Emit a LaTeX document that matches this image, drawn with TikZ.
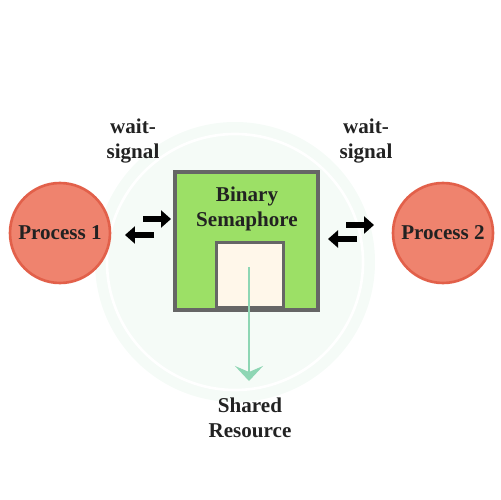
\documentclass[tikz,border=0pt]{standalone}
\usepackage{fontspec}
\setmainfont{Liberation Serif}
\usetikzlibrary{arrows.meta}

\definecolor{procfill}{HTML}{EF836E}
\definecolor{procline}{HTML}{E2604A}
\definecolor{semfill}{HTML}{9CE066}
\definecolor{semline}{HTML}{666666}
\definecolor{resfill}{HTML}{FFF7EA}
\definecolor{flowline}{HTML}{8ED6B4}
\definecolor{inktext}{HTML}{222222}
\definecolor{faint}{HTML}{F5FBF7}

\tikzset{
  label text/.style={font=\bfseries\fontsize{12}{14}\selectfont, text=inktext, align=center},
  process/.style={circle, draw=procline, line width=1.5pt, fill=procfill,
    minimum size=2cm, inner sep=0pt, label text},
  swap arrow/.style={line width=0.11cm, -{Triangle[length=0.2cm, width=0.34cm]}}
}

\begin{document}
\begin{tikzpicture}[x=0.02cm, y=-0.02cm]

      \useasboundingbox (0, 0) rectangle (500, 500);

      % cercle de fond (filigrane)
      \fill[faint] (235, 262) circle (140);
      \draw[white, line width=1.5pt] (235, 262) circle (128);

      % processus
      \node[process] (p1) at (60, 233) {Process 1};
      \node[process] (p2) at (443, 233) {Process 2};

      % semaphore binaire
      \node[draw=semline, line width=0.08cm, fill=semfill, minimum width=2.86cm,
            minimum height=2.76cm] (sem) at (246.5, 241) {};
      \node[label text] (semtxt) at (247, 209) {Binary\\Semaphore};

      % ressource partagee
      \node[draw=semline, line width=1.2pt, fill=resfill, minimum width=1.34cm,
            minimum height=1.3cm] (res) at (250, 275) {};

      % etiquettes wait-signal
      \node[label text] (ws1) at (133, 141) {wait-\\signal};
      \node[label text] (ws2) at (366, 141) {wait-\\signal};

      % fleches wait-signal
      \coordinate (a1) at (143, 219);
      \coordinate (a2) at (171, 219);
      \coordinate (b1) at (154, 235);
      \coordinate (b2) at (125, 235);
      \coordinate (c1) at (346, 225);
      \coordinate (c2) at (374, 225);
      \coordinate (d1) at (357, 239);
      \coordinate (d2) at (328, 239);
      \draw[swap arrow] (a1) -- (a2);
      \draw[swap arrow] (b1) -- (b2);
      \draw[swap arrow] (c1) -- (c2);
      \draw[swap arrow] (d1) -- (d2);

      % acces a la ressource
      \node[label text] (shared) at (250, 418) {Shared\\Resource};
      \coordinate (tip) at (249, 381);
      \draw[flowline, line width=1.3pt,
            -{Stealth[length=0.3cm, width=0.56cm, inset=0.12cm]}]
            (res.center) ++(-1, -8) -- (tip);
    \end{tikzpicture}
\end{document}
